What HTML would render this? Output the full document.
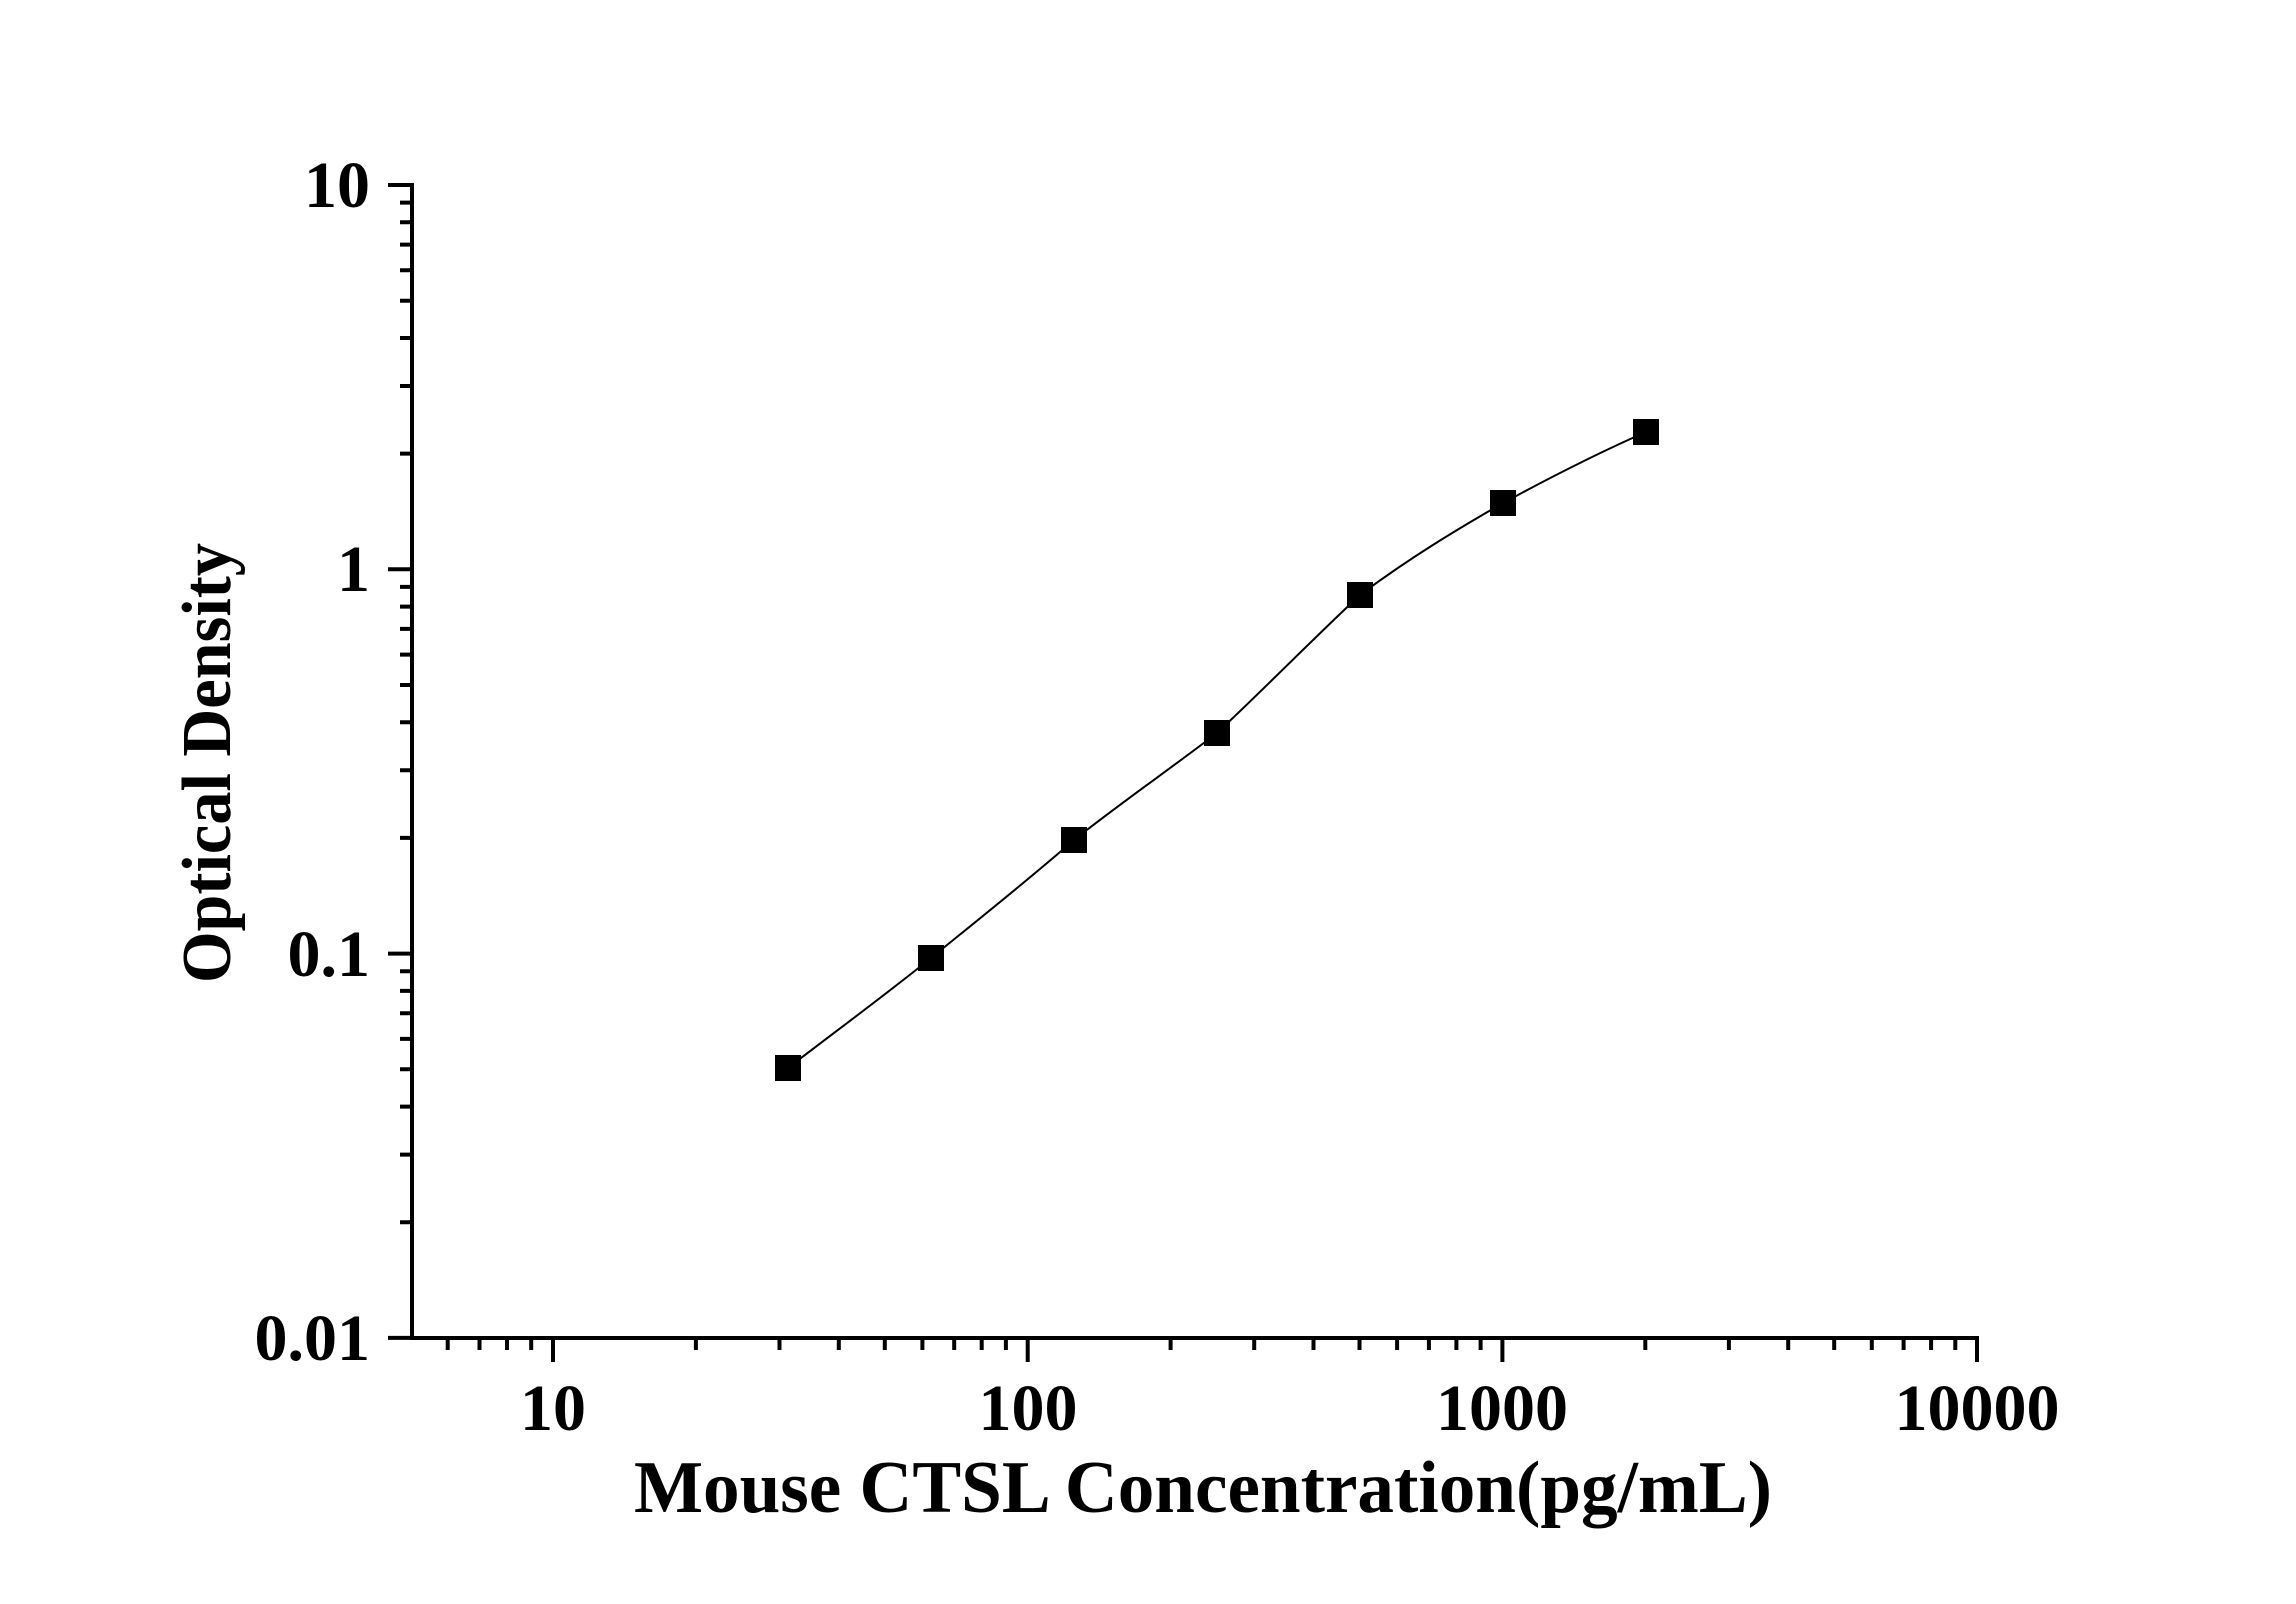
<!DOCTYPE html>
<html><head><meta charset="utf-8"><style>html,body{margin:0;padding:0;background:#fff}svg{display:block}</style></head>
<body>
<svg xmlns="http://www.w3.org/2000/svg" width="2296" height="1604" viewBox="0 0 2296 1604">
<rect width="2296" height="1604" fill="#fff"/>
<g stroke="#000" stroke-width="4" fill="none" stroke-linecap="square">
<path d="M412,185 V1338 H1977"/>
</g>
<g stroke="#000" stroke-width="4" fill="none">
<path d="M553,1338V1362M1027.7,1338V1362M1502.4,1338V1362M1977,1338V1362
M447.7,1338V1350M479.5,1338V1350M507,1338V1350M531.2,1338V1350
M695.9,1338V1350M779.5,1338V1350M838.8,1338V1350M884.8,1338V1350M922.4,1338V1350M954.2,1338V1350M981.7,1338V1350M1005.9,1338V1350
M1170.6,1338V1350M1254.2,1338V1350M1313.5,1338V1350M1359.5,1338V1350M1397.1,1338V1350M1428.9,1338V1350M1456.4,1338V1350M1480.6,1338V1350
M1645.3,1338V1350M1728.9,1338V1350M1788.2,1338V1350M1834.2,1338V1350M1871.8,1338V1350M1903.6,1338V1350M1931.1,1338V1350M1955.3,1338V1350
M388,185H412M388,569.3H412M388,953.6H412M388,1337.9H412
M400,453.6H412M400,386H412M400,338H412M400,300.7H412M400,270.3H412M400,244.6H412M400,222.3H412M400,202.6H412
M400,837.9H412M400,770.3H412M400,722.3H412M400,685H412M400,654.6H412M400,628.9H412M400,606.6H412M400,586.9H412
M400,1222.2H412M400,1154.6H412M400,1106.6H412M400,1069.3H412M400,1038.9H412M400,1013.2H412M400,990.9H412M400,971.2H412"/>
</g>
<path fill="none" stroke="#000" stroke-width="2" d="M788,1068 C836,1031 884,996 931,958 C979,919 1027,881 1074,840 C1122,802 1170,769 1217,733 C1265,688 1313,639 1360,595 C1408,559 1456,530 1503,503 C1551,477 1598,453 1646,432"/>
<g fill="#000">
<rect x="775" y="1055" width="26" height="26"/>
<rect x="918" y="945" width="26" height="26"/>
<rect x="1061" y="827" width="26" height="26"/>
<rect x="1204" y="720" width="26" height="26"/>
<rect x="1347" y="582" width="26" height="26"/>
<rect x="1490" y="490" width="26" height="26"/>
<rect x="1633" y="419" width="26" height="26"/>
</g>
<g font-family="Liberation Serif, serif" font-weight="bold" font-size="66" fill="#000">
<text x="370" y="207" text-anchor="end">10</text>
<text x="370" y="591" text-anchor="end">1</text>
<text x="370" y="976" text-anchor="end">0.1</text>
<text x="370" y="1360" text-anchor="end">0.01</text>
<text x="553" y="1430" text-anchor="middle">10</text>
<text x="1028" y="1430" text-anchor="middle">100</text>
<text x="1502" y="1430" text-anchor="middle">1000</text>
<text x="1977" y="1430" text-anchor="middle">10000</text>
<text x="634" y="1512" font-size="74" textLength="1138" lengthAdjust="spacingAndGlyphs">Mouse CTSL Concentration(pg/mL)</text>
<text transform="translate(230,983) rotate(-90)" font-size="70" textLength="440" lengthAdjust="spacingAndGlyphs">Optical Density</text>
</g>
</svg>
</body></html>
